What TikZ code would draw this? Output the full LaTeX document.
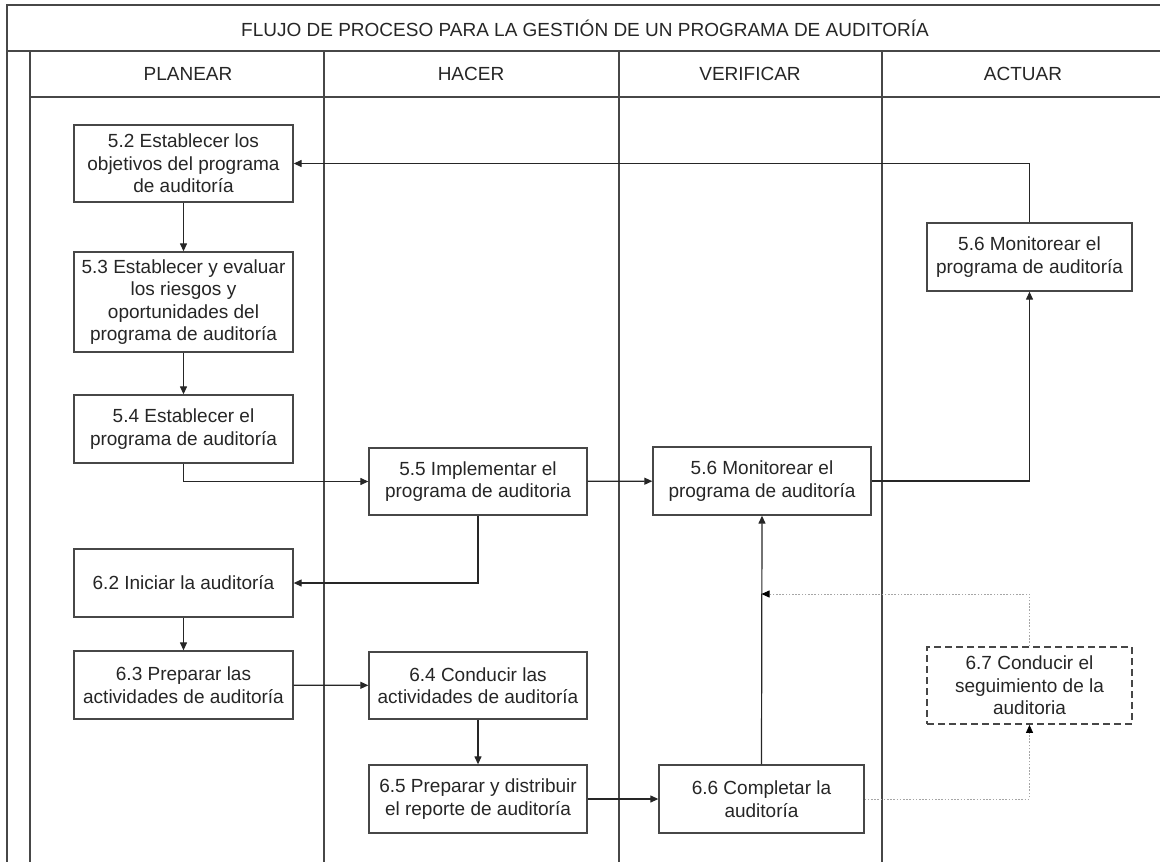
\documentclass[tikz,border=0pt]{standalone}
\usepackage{fontspec}
\setmainfont{Liberation Sans}
\usetikzlibrary{arrows.meta}

\definecolor{ink}{HTML}{262626}
\definecolor{rule}{HTML}{474747}
\definecolor{faint}{HTML}{A6A6A6}

\begin{document}
\begin{tikzpicture}[x=1pt,y=-1pt,
  txt/.style={font=\fontsize{19}{22.5}\selectfont, text=ink},
  grid/.style={draw=rule, line width=1.5pt},
  box/.style={txt, draw=rule, line width=1.3pt, fill=white, align=center,
    inner sep=0pt, minimum width=219pt, minimum height=68pt},
  narrowbox/.style={box, minimum width=205pt},
  dashbox/.style={narrowbox, dash pattern=on 7pt off 4pt, line width=1.7pt},
  flow/.style={draw=black!85, line width=1.2pt, -{Triangle[length=8pt,width=7pt]}},
  faintflow/.style={draw=faint, line width=0.8pt, dash pattern=on 1.6pt off 1.6pt,
    -{Triangle[length=8pt,width=7pt,color=black]}}
]
\useasboundingbox (0,0) rectangle (1160,862);

% swimlane frame
\draw[grid] (7,862) -- (7,5) -- (1160,5);
\draw[grid] (7,51) -- (1160,51);
\draw[grid] (30,51) -- (30,862);
\draw[grid] (30,97) -- (1160,97);
\draw[grid] (324,51) -- (324,862);
\draw[grid] (619,51) -- (619,862);
\draw[grid] (882,51) -- (882,862);

% titles
\node[txt] (title) at (585,28) {FLUJO DE PROCESO PARA LA GESTIÓN DE UN PROGRAMA DE AUDITORÍA};
\node[txt] (hplan) at (188,74) {PLANEAR};
\node[txt] (hhac) at (471,74) {HACER};
\node[txt] (hver) at (750,74) {VERIFICAR};
\node[txt] (hact) at (1023,74) {ACTUAR};

% process steps
\node[box, minimum height=77pt] (b52) at (183.5,163.5) {5.2 Establecer los\\objetivos del programa\\de auditoría};
\node[box, minimum height=100pt] (b53) at (183.5,302) {5.3 Establecer y evaluar\\los riesgos y\\oportunidades del\\programa de auditoría};
\node[box] (b54) at (183.5,429) {5.4 Establecer el\\programa de auditoría};
\node[box, minimum width=218pt, minimum height=67pt] (b55) at (478,481.5) {5.5 Implementar el\\programa de auditoria};
\node[box, minimum width=218pt] (b56v) at (762,481) {5.6 Monitorear el\\programa de auditoría};
\node[narrowbox] (b56a) at (1029.5,257) {5.6 Monitorear el\\programa de auditoría};
\node[box] (b62) at (183.5,583) {6.2 Iniciar la auditoría};
\node[box] (b63) at (183.5,685) {6.3 Preparar las\\actividades de auditoría};
\node[box, minimum width=218pt, minimum height=67pt] (b64) at (478,685.5) {6.4 Conducir las\\actividades de auditoría};
\node[box, minimum width=218pt] (b65) at (478,799) {6.5 Preparar y distribuir\\el reporte de auditoría};
\node[narrowbox] (b66) at (761.5,799) {6.6 Completar la\\auditoría};
\node[dashbox, minimum height=77pt] (b67) at (1029.5,685.5) {6.7 Conducir el\\seguimiento de la\\auditoria};

% main flow
\draw[flow] (b52) -- (b53);
\draw[flow] (b53) -- (b54);
\draw[flow] (b54.south) |- (b55.west);
\draw[flow] (b55) -- (b56v);
\draw[flow] (b56v.east) -| (b56a.south);
\draw[flow] (b56a.north) |- (b52.east);
\draw[flow] (b55.south) |- (b62.east);
\draw[flow] (b62) -- (b63);
\draw[flow] (b63) -- (b64);
\draw[flow] (b64) -- (b65);
\draw[flow] (b65) -- (b66);
\draw[flow] (b66.north) -- (b56v.south);

% follow-up loop
\coordinate (join) at (b66.north |- 0,594);
\draw[faintflow] (b66.east) -| (b67.south);
\draw[faintflow] (b67.north) |- (join);
\end{tikzpicture}
\end{document}
